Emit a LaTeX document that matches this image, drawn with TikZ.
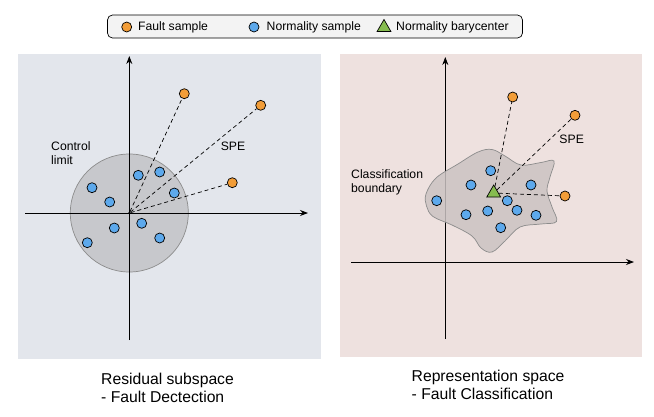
\documentclass[tikz,border=0pt]{standalone}
\usepackage{fontspec}
\setmainfont{Liberation Sans}
\usepackage{xcolor}
\usetikzlibrary{positioning,arrows.meta,shapes.geometric}
\definecolor{faultorange}{HTML}{F29D38}
\definecolor{normblue}{HTML}{5DA9EC}
\definecolor{barygreen}{HTML}{86BC4F}
\definecolor{residbg}{HTML}{E3E6EC}
\definecolor{reprbg}{HTML}{EEE1DF}
\definecolor{limitfill}{HTML}{C7C8CC}
\definecolor{boundfill}{HTML}{CBC3C2}
\definecolor{limitline}{HTML}{8C8C8C}
\definecolor{legendbg}{HTML}{F3F3F3}

\begin{document}
\begin{tikzpicture}[
  x=1pt,y=-1pt,
  font=\fontsize{12.2}{14}\selectfont,
  fault/.style={circle,draw=black,fill=faultorange,line width=0.7pt,minimum size=10pt,inner sep=0pt},
  normal/.style={circle,draw=black,fill=normblue,line width=0.7pt,minimum size=10pt,inner sep=0pt},
  bary/.style={regular polygon,regular polygon sides=3,draw=black,fill=barygreen,line width=0.7pt,
               minimum size=16pt,inner sep=0pt},
  panel/.style={draw=none,inner sep=0pt},
  axis/.style={-{Stealth[length=8pt,width=6pt]},black,line width=0.8pt},
  spe/.style={dashed,black,line width=0.7pt,dash pattern=on 4pt off 3pt},
  region/.style={draw=limitline,line width=0.7pt},
  caption/.style={align=left,anchor=north west,inner sep=0pt,
                  font=\fontsize{15.7}{17.5}\selectfont},
  note/.style={align=left,anchor=north west,inner sep=0pt}
]
\useasboundingbox (0,0) rectangle (654,416);

% panels
\node[panel,fill=residbg,minimum width=303pt,minimum height=305pt] (resid) at (169.5,206.5) {};
\node[panel,fill=reprbg,minimum width=302pt,minimum height=303pt] (repr) at (491,205.5) {};

% legend
\node[draw=black,fill=legendbg,rounded corners=5pt,line width=0.7pt,
      minimum width=415pt,minimum height=23pt] (legend) at (315,26.5) {};
\node[fault] (lgfault) at (126.7,27) {};
\node[anchor=west,inner sep=0pt] (lgfaulttxt) at (138,27) {Fault sample};
\node[normal] (lgnormal) at (254,27) {};
\node[anchor=west,inner sep=0pt] (lgnormaltxt) at (266.5,27) {Normality sample};
\node[bary] (lgbary) at (384,27.5) {};
\node[anchor=west,inner sep=0pt] (lgbarytxt) at (396,27) {Normality barycenter};

% residual subspace
\coordinate (xl1) at (25,213);
\coordinate (xr1) at (308,213);
\coordinate (yb1) at (129.3,340);
\coordinate (yt1) at (129.3,56);
\node[circle,region,fill=limitfill,minimum size=118pt,inner sep=0pt] (limit) at (129.3,213) {};
\draw[axis] (xl1) -- (xr1);
\draw[axis] (yb1) -- (yt1);
\node[circle,fill=black,minimum size=2.5pt,inner sep=0pt] (o1) at (129.3,213) {};

\node[note] (limittxt) at (51,141) {Control\\limit};
\node (spe1) at (233,146) {SPE};

\node[fault] (fa1) at (184.3,93.7) {};
\node[fault] (fa2) at (260.7,105.3) {};
\node[fault] (fa3) at (232.3,182.7) {};
\node[normal] (na1) at (138.3,175.3) {};
\node[normal] (na2) at (159.7,172) {};
\node[normal] (na3) at (174.3,193) {};
\node[normal] (na4) at (92,187.7) {};
\node[normal] (na5) at (109.7,202) {};
\node[normal] (na6) at (114.3,228) {};
\node[normal] (na7) at (141.7,223.3) {};
\node[normal] (na8) at (159.7,238) {};
\node[normal] (na9) at (87.3,242.7) {};

\draw[spe] (o1) -- (fa1);
\draw[spe] (o1) -- (fa2);
\draw[spe] (o1) -- (fa3);

\node[caption] (capl) at (101,373) {Residual subspace\\- Fault Dectection};

% representation space
\coordinate (xl2) at (351,262);
\coordinate (xr2) at (634,262);
\coordinate (yb2) at (445.3,339);
\coordinate (yt2) at (445.3,57);
\draw[axis] (xl2) -- (xr2);
\draw[axis] (yb2) -- (yt2);

\draw[region,fill=boundfill,fill opacity=0.85] plot[smooth cycle,tension=0.6] coordinates {
  (426,194) (436,178) (458,164) (478,152) (492,149.5) (505,156) (521,165)
  (541,162.5) (554,161) (550,177) (547,191) (552,207) (556.5,221.5) (541,224)
  (520,227) (505,241) (492,252) (481,248) (472,236) (452,225) (433,216.5) (426.5,206)};

\node[note] (boundtxt) at (351,169) {Classification\\boundary};
\node (spe2) at (571.7,139.3) {SPE};

\node[fault] (fb1) at (512.7,97) {};
\node[fault] (fb2) at (575,115.3) {};
\node[fault] (fb3) at (565,196) {};
\node[normal] (nb1) at (490.7,170.7) {};
\node[normal] (nb2) at (471,185) {};
\node[normal] (nb3) at (531,185) {};
\node[normal] (nb4) at (436.7,200.7) {};
\node[normal] (nb5) at (507.3,200.7) {};
\node[normal] (nb6) at (487.7,211) {};
\node[normal] (nb7) at (517,210.3) {};
\node[normal] (nb8) at (466,214.7) {};
\node[normal] (nb9) at (536,215.3) {};
\node[normal] (nb10) at (500.7,227.7) {};
\node[bary] (center) at (493.7,193) {};

\draw[spe] (center) -- (fb1);
\draw[spe] (center) -- (fb2);
\draw[spe] (center) -- (fb3);

\node[caption] (capr) at (411.5,370) {Representation space\\- Fault Classification};
\end{tikzpicture}
\end{document}
